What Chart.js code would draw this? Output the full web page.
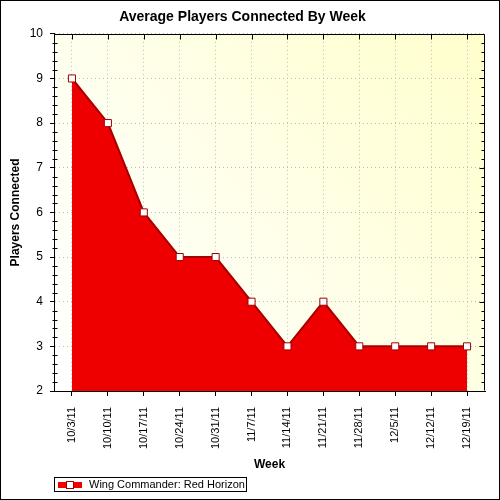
<!DOCTYPE html>
<html>
<head>
<meta charset="utf-8">
<script src="https://cdn.jsdelivr.net/npm/chart.js@4.4.0/dist/chart.umd.min.js"></script>
<style>
html, body { margin: 0; padding: 0; background: #fff; }
</style>
</head>
<body>
<canvas id="c" width="500" height="500"></canvas>
<script>
// data
const weeks = ['10/3/11', '10/10/11', '10/17/11', '10/24/11', '10/31/11', '11/7/11',
               '11/14/11', '11/21/11', '11/28/11', '12/5/11', '12/12/11', '12/19/11'];
const players = [9, 8, 6, 5, 5, 4, 3, 4, 3, 3, 3, 3];
const seriesName = 'Wing Commander: Red Horizon';
const yMin = 2, yMax = 10;

// plot background gradient + frame, minor ticks, legend box
const decor = {
  id: 'decor',
  beforeDraw(chart) {
    const { ctx, chartArea: a } = chart;
    const g = ctx.createLinearGradient(a.left, a.bottom, a.right, a.top);
    g.addColorStop(0, '#ffffff');
    g.addColorStop(0.3, '#fffff4');
    g.addColorStop(1, '#ffffcc');
    ctx.save();
    ctx.fillStyle = g;
    ctx.fillRect(a.left, a.top, a.width, a.height);
    ctx.restore();
  },
  afterDraw(chart) {
    const { ctx, chartArea: a, scales } = chart;
    const x = scales.x, y = scales.y;
    const L = Math.round(a.left) + 0.5, R = Math.round(a.right) - 0.5;
    const T = Math.round(a.top) + 0.5, B = Math.round(a.bottom) - 0.5;
    ctx.save();
    ctx.strokeStyle = '#000';
    ctx.lineWidth = 1;
    ctx.beginPath();
    ctx.moveTo(L, T); ctx.lineTo(R, T); ctx.lineTo(R, B);
    // minor / mirrored ticks on y
    for (let k = yMin * 5; k <= yMax * 5; k++) {
      const py = Math.round(y.getPixelForValue(k / 5)) + 0.5;
      if (k % 5 === 0) {
        ctx.moveTo(R, py); ctx.lineTo(R - 5, py);
      } else {
        ctx.moveTo(L - 2, py); ctx.lineTo(L + 3, py);
        ctx.moveTo(R, py); ctx.lineTo(R - 3, py);
      }
    }
    // top ticks at categories
    weeks.forEach((w, i) => {
      const px = Math.round(x.getPixelForValue(i)) + 0.5;
      ctx.moveTo(px, T); ctx.lineTo(px, T + 5);
    });
    ctx.stroke();
    // outer border
    ctx.strokeRect(0.5, 0.5, 499, 499);

    // legend
    ctx.fillStyle = '#fff';
    ctx.fillRect(54.5, 477.5, 192, 14);
    ctx.strokeRect(54.5, 477.5, 192, 14);
    ctx.fillStyle = '#ee0000';
    ctx.fillRect(58, 482, 24, 6);
    ctx.fillStyle = '#fff';
    ctx.strokeStyle = '#a00000';
    ctx.fillRect(66.5, 481.5, 7, 7);
    ctx.strokeRect(66.5, 481.5, 7, 7);
    ctx.fillStyle = '#000';
    ctx.font = '11px Arial, "Liberation Sans", sans-serif';
    ctx.textBaseline = 'middle';
    ctx.fillText(chart.data.datasets[0].label, 89, 485);
    ctx.restore();
  }
};

new Chart(document.getElementById('c'), {
  type: 'line',
  data: {
    labels: weeks,
    datasets: [{
      label: seriesName,
      data: players,
      fill: 'start',
      backgroundColor: '#ee0000',
      borderColor: '#a80000',
      borderWidth: 2,
      tension: 0,
      pointStyle: 'rect',
      pointRadius: 5,
      pointHoverRadius: 5,
      pointBackgroundColor: '#ffffff',
      pointBorderColor: '#a00000',
      pointBorderWidth: 1
    }]
  },
  options: {
    responsive: false,
    animation: false,
    devicePixelRatio: 1,
    layout: { padding: { left: 0, right: 15, top: 0, bottom: 28 } },
    plugins: {
      legend: { display: false },
      tooltip: { enabled: false },
      title: {
        display: true,
        text: 'Average Players Connected By Week',
        color: '#000',
        font: { family: 'Arial, "Liberation Sans", sans-serif', size: 14, weight: 'bold' },
        padding: { top: 9, bottom: 8 }
      }
    },
    scales: {
      x: {
        offset: true,
        grid: {
          offset: false,
          color: '#bbbbbb',
          tickColor: '#000',
          tickLength: 5,
          tickWidth: 1
        },
        border: { color: '#000', width: 1, dash: [1, 3] },
        ticks: {
          color: '#000',
          minRotation: 90,
          maxRotation: 90,
          padding: 11,
          font: { family: 'Arial, "Liberation Sans", sans-serif', size: 11 }
        },
        title: {
          display: true,
          text: 'Week',
          color: '#000',
          font: { family: 'Arial, "Liberation Sans", sans-serif', size: 12, weight: 'bold' },
          padding: { top: 0, bottom: 0 }
        },
        afterFit(s) { s.height = 81; }
      },
      y: {
        min: yMin,
        max: yMax,
        ticks: {
          stepSize: 1,
          color: '#000',
          padding: 7,
          font: { family: 'Arial, "Liberation Sans", sans-serif', size: 12 }
        },
        grid: {
          color: '#bbbbbb',
          tickColor: '#000',
          tickLength: 4,
          tickWidth: 1
        },
        border: { color: '#000', width: 1, dash: [1, 3] },
        title: {
          display: true,
          text: 'Players Connected',
          color: '#000',
          font: { family: 'Arial, "Liberation Sans", sans-serif', size: 12, weight: 'bold' },
          padding: { top: 8, bottom: 0 }
        },
        afterFit(s) { s.width = 54; }
      }
    }
  },
  plugins: [decor]
});
</script>
</body>
</html>
